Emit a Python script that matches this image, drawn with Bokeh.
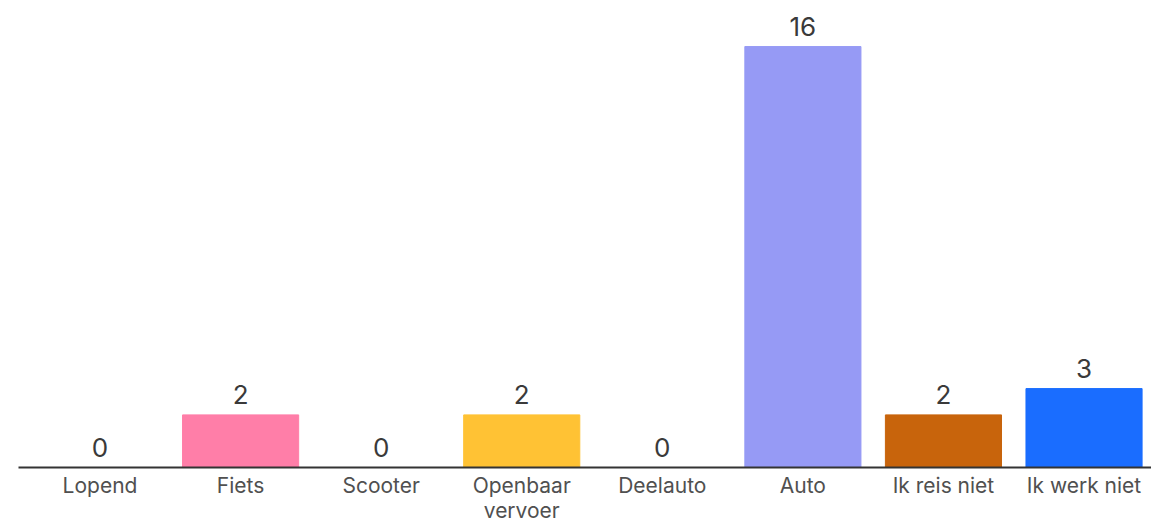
import numpy as np
from bokeh.plotting import figure
from bokeh.models import ColumnDataSource, Range1d, FixedTicker
from bokeh.core.properties import value
from bokeh.embed import file_html
from bokeh.resources import INLINE

categories = ["Lopend", "Fiets", "Scooter", "Openbaar\nvervoer", "Deelauto", "Auto", "Ik reis niet", "Ik werk niet"]
counts = [0, 2, 0, 2, 0, 16, 2, 3]
colors = ["#8E8E8E", "#FF7EA8", "#8E8E8E", "#FFC234", "#8E8E8E", "#969AF5", "#C8640C", "#1A6DFF"]

x = list(range(len(categories)))
src = ColumnDataSource(dict(x=x, top=counts, color=colors, label=[str(c) for c in counts]))

p = figure(width=1151, height=525, output_backend="svg", toolbar_location=None,
           x_range=Range1d(-0.58, 7.48), y_range=Range1d(0, 17.75),
           min_border_left=18, min_border_right=0, min_border_top=0, min_border_bottom=30)
p.outline_line_color = None
p.grid.grid_line_color = None
p.yaxis.visible = False

p.vbar(x="x", top="top", bottom=0, width=0.826, color="color", source=src)
p.text(x="x", y="top", text="label", source=src, text_align="center", text_baseline="bottom",
       y_offset=-11, text_font=value("Inter"), text_font_size="26px", text_color="#3A3A3A")

ax = p.xaxis[0]
ax.ticker = FixedTicker(ticks=x)
ax.major_label_overrides = {i: c for i, c in zip(x, categories)}
ax.major_tick_line_color = None
ax.minor_tick_line_color = None
ax.major_tick_out = 0
ax.major_tick_in = 0
ax.axis_line_color = "#333333"
ax.axis_line_width = 2
ax.major_label_standoff = 5
ax.major_label_text_font = "Inter"
ax.major_label_text_font_size = "21px"
ax.major_label_text_line_height = 1.0
ax.major_label_text_color = "#505050"

open("out.html", "w").write(file_html(p, INLINE))
